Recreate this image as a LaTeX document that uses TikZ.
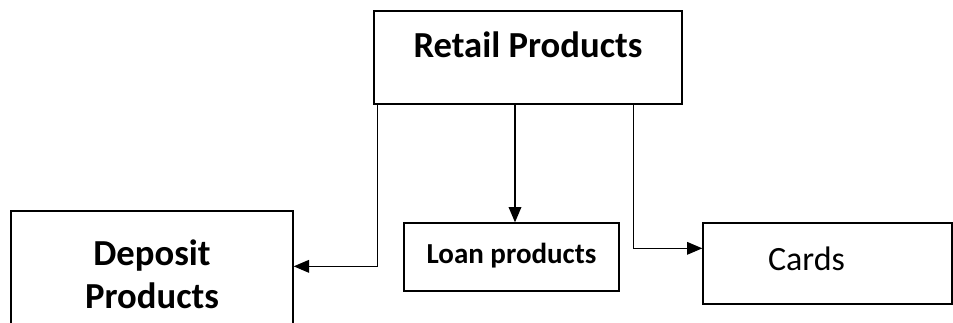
\documentclass[tikz,border=0pt]{standalone}
\usepackage{fontspec}
\setmainfont{Carlito}
\usetikzlibrary{arrows.meta}

\begin{document}
\begin{tikzpicture}[x=0.75pt,y=-0.75pt,
  box/.style={draw, line width=1pt, inner sep=0pt, anchor=base},
  arr/.style={line width=1pt, -{Triangle[length=11.5pt,width=9.5pt]}}]
\clip (0,0) rectangle (953,322);
\node [box, minimum width=231pt, text height=34.5pt, text depth=35.25pt,
  font=\fontsize{27.5}{32}\bfseries\selectfont] (retail) at (528,57) {Retail Products};
\node [box, minimum width=211.5pt, text height=72.75pt, text depth=27.75pt, align=center,
  font=\fontsize{27.5}{32.25}\bfseries\selectfont] (deposit) at (152,308) {Deposit\\Products};
\node [box, minimum width=161.25pt, text height=30pt, text depth=21pt,
  font=\fontsize{21.75}{26}\bfseries\selectfont] (loan) at (511.5,263) {Loan products};
\node [box, minimum width=186.75pt, text height=35.25pt, text depth=25.5pt,
  font=\fontsize{25.5}{30}\selectfont] (cards) at (827.5,270) {Cards\hspace*{31.5pt}};
\draw [arr] ([xshift=3pt]retail.south west) |- ([yshift=-42pt]deposit.north east);
\draw [arr] ([xshift=-9.75pt]retail.south) -- ([xshift=-9.75pt]retail.south |- loan.north);
\draw [arr] ([xshift=-36.75pt]retail.south east) |- ([yshift=-19.5pt]cards.north west);
\end{tikzpicture}
\end{document}
